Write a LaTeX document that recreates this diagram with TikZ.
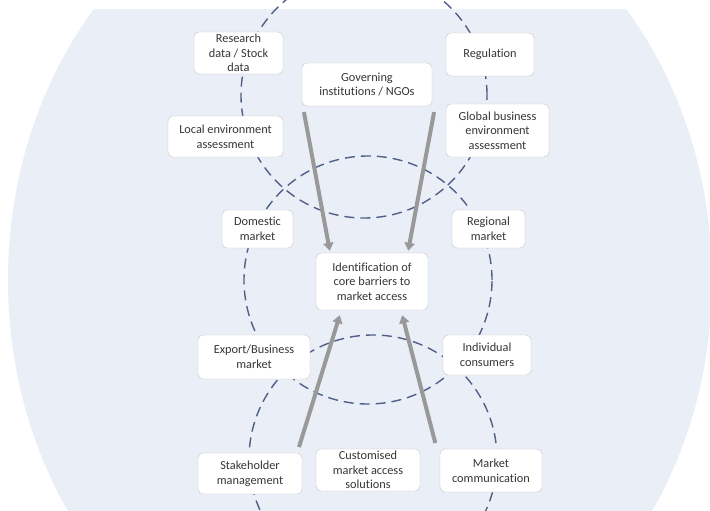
\documentclass[tikz,border=0pt]{standalone}
\usepackage{fontspec}
\setmainfont{Carlito}[Ligatures=NoCommon]
\usetikzlibrary{arrows.meta, calc}

\definecolor{bgblue}{HTML}{EAEEF7}
\definecolor{dashblue}{HTML}{4F5F86}
\definecolor{arrowgray}{HTML}{999999}
\definecolor{boxgray}{HTML}{C6C6C6}
\definecolor{textgray}{HTML}{363636}

\begin{document}
\begin{tikzpicture}[x=1pt, y=-1pt,
	box/.style={draw=boxgray, fill=white, rounded corners=5pt, align=center,
		text=textgray, inner xsep=2pt, inner ysep=1pt,
		font=\fontsize{12.3}{14.6}\selectfont},
	loop/.style={draw=dashblue, line width=1.4pt, dash pattern=on 10pt off 6pt},
	bigarrow/.style={draw=arrowgray, line width=4pt,
		-{Triangle[width=10pt,length=8pt]}, shorten <=6pt}]
	
	\useasboundingbox (0,0) rectangle (710,511);
	
	% background
	\begin{scope}
		\clip (0,10) rectangle (710,511);
		\fill[bgblue] (360,280) ellipse [x radius=352pt, y radius=414pt];
	\end{scope}
	
	% three dashed loops
	\draw[loop] (364,95) circle [radius=123pt];
	\draw[loop] (368,280) circle [radius=124pt];
	\draw[loop] (373,459) circle [radius=124pt];
	
	% boxes
	\node[box, minimum width=89pt, minimum height=42pt] (research) at (238.5,53) {Research\\data / Stock\\data};
	\node[box, minimum width=130pt, minimum height=43pt] (govern) at (367,84.5) {Governing\\institutions / NGOs};
	\node[box, minimum width=88pt, minimum height=43pt] (regul) at (490,54.5) {Regulation};
	\node[box, minimum width=115pt, minimum height=41pt] (localenv) at (225.5,136.5) {Local environment\\assessment};
	\node[box, minimum width=103pt, minimum height=53pt] (globalenv) at (497.5,130.5) {Global business\\environment\\assessment};
	
	\node[box, minimum width=71pt, minimum height=38pt] (domestic) at (257.5,229) {Domestic\\market};
	\node[box, minimum width=73pt, minimum height=38pt] (regional) at (488.5,229) {Regional\\market};
	\node[box, minimum width=112pt, minimum height=57pt] (core) at (372,281.5) {Identification of\\core barriers to\\market access};
	\node[box, minimum width=112pt, minimum height=44pt] (export) at (254,357) {Export/Business\\market};
	\node[box, minimum width=88pt, minimum height=40pt] (indiv) at (487,355) {Individual\\consumers};
	
	\node[box, minimum width=104pt, minimum height=41pt] (stake) at (250,473.5) {Stakeholder\\management};
	\node[box, minimum width=104pt, minimum height=42pt] (custom) at (368,470) {Customised\\market access\\solutions};
	\node[box, minimum width=102pt, minimum height=43pt] (marketcomm) at (491,470.5) {Market\\communication};
	
	% arrows into the core
	\draw[bigarrow] ([xshift=1pt]govern.south west) -- ([xshift=14pt,yshift=2pt]core.north west);
	\draw[bigarrow] ([xshift=3pt]govern.south east) -- ([xshift=-20pt,yshift=2pt]core.north east);
	\draw[bigarrow] ([xshift=-5pt]stake.north east) -- ([xshift=24pt,yshift=-5pt]core.south west);
	\draw[bigarrow] ([xshift=-3pt]marketcomm.north west) -- ([xshift=-26pt,yshift=-5pt]core.south east);
\end{tikzpicture}
\end{document}
